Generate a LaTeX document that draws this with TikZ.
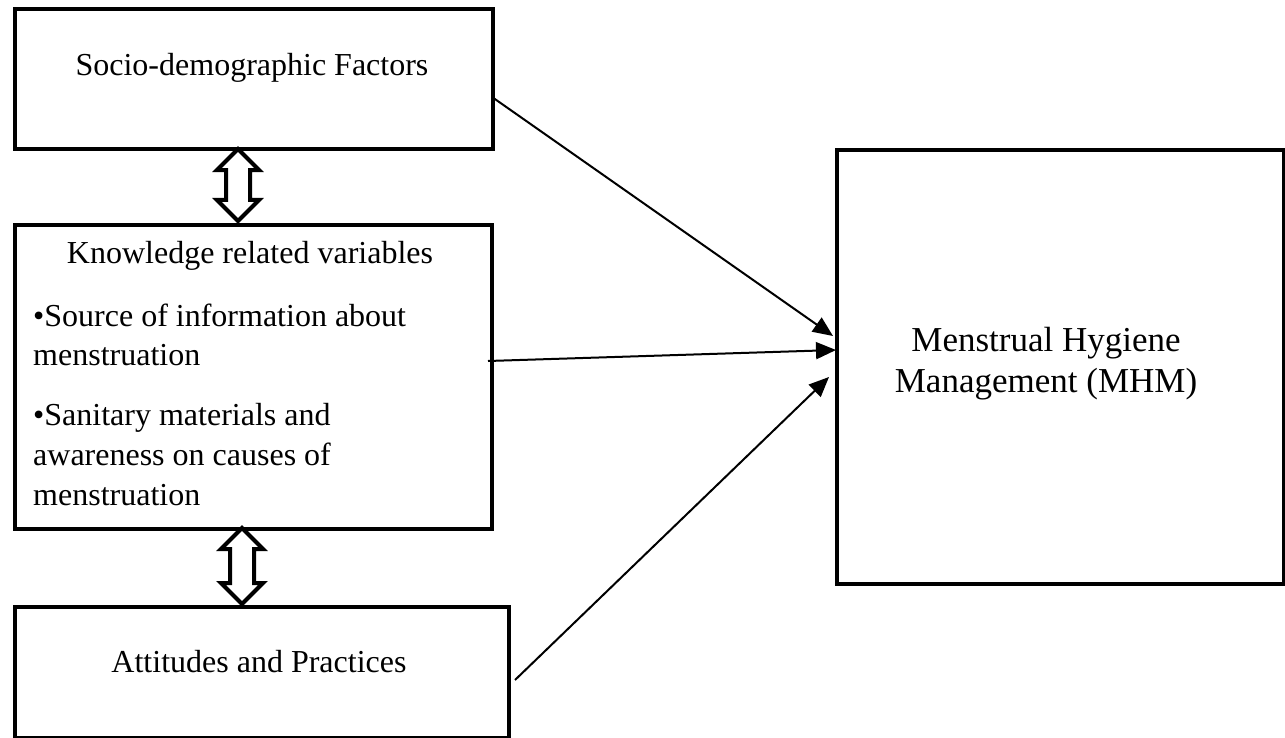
\documentclass[tikz,border=0pt]{standalone}
\usepackage{fontspec}
\setmainfont{Liberation Serif}
\usetikzlibrary{shapes.arrows,arrows.meta,calc}
\begin{document}
\begin{tikzpicture}[x=1pt,y=-1pt,
  box/.style={draw,line width=4pt,inner sep=0pt,anchor=north west},
  txt/.style={font=\fontsize{32}{40}\selectfont,inner sep=0pt},
  bigtxt/.style={font=\fontsize{35}{41}\selectfont,inner sep=0pt},
  conn/.style={line width=2pt,-{Triangle[length=20pt,width=17pt]}},
  dbl/.style={draw,double arrow,line width=4pt,fill=white,rotate=90,inner sep=10pt,
    double arrow head extend=9pt,double arrow tip angle=90}]
\useasboundingbox (0,0) rectangle (1285,738);
% boxes
\node[box,minimum width=478pt,minimum height=140pt] (b1) at (13,7) {};
\node[box,minimum width=477pt,minimum height=304pt] (b2) at (13,223) {};
\node[box,minimum width=494pt,minimum height=131pt] (b3) at (13,605) {};
\node[box,minimum width=447pt,minimum height=434pt] (m) at (835,148) {};
% texts
\node[txt,anchor=base] (t1) at (252,76) {Socio-demographic Factors};
\node[txt,anchor=base] (t2) at (250,263) {Knowledge related variables};
\node[txt,anchor=base west] (t2a) at (33,326) {\textbullet Source of information about};
\node[txt,anchor=base west] (t2b) at (33,365) {menstruation};
\node[txt,anchor=base west] (t2c) at (33,425) {\textbullet Sanitary materials and};
\node[txt,anchor=base west] (t2d) at (33,465) {awareness on causes of};
\node[txt,anchor=base west] (t2e) at (33,505) {menstruation};
\node[txt,anchor=base] (t3) at (259,672) {Attitudes and Practices};
\node[bigtxt,anchor=base] (tm1) at (1046,351) {Menstrual Hygiene};
\node[bigtxt,anchor=base] (tm2) at (1046,392) {Management (MHM)};
% double arrows
\node[dbl,minimum height=72pt] (d1) at ($(238,147)!0.5!(238,223)$) {};
\node[dbl,minimum height=76pt] (d2) at ($(242,527)!0.5!(242,605)$) {};
% connectors
\coordinate (s1) at (492,97);
\coordinate (e1) at (833,336);
\coordinate (s2) at (488,361);
\coordinate (e2) at (836,350);
\coordinate (s3) at (515,680);
\coordinate (e3) at (829,377);
\draw[conn] (s1) -- (e1);
\draw[conn] (s2) -- (e2);
\draw[conn] (s3) -- (e3);
\end{tikzpicture}
\end{document}
